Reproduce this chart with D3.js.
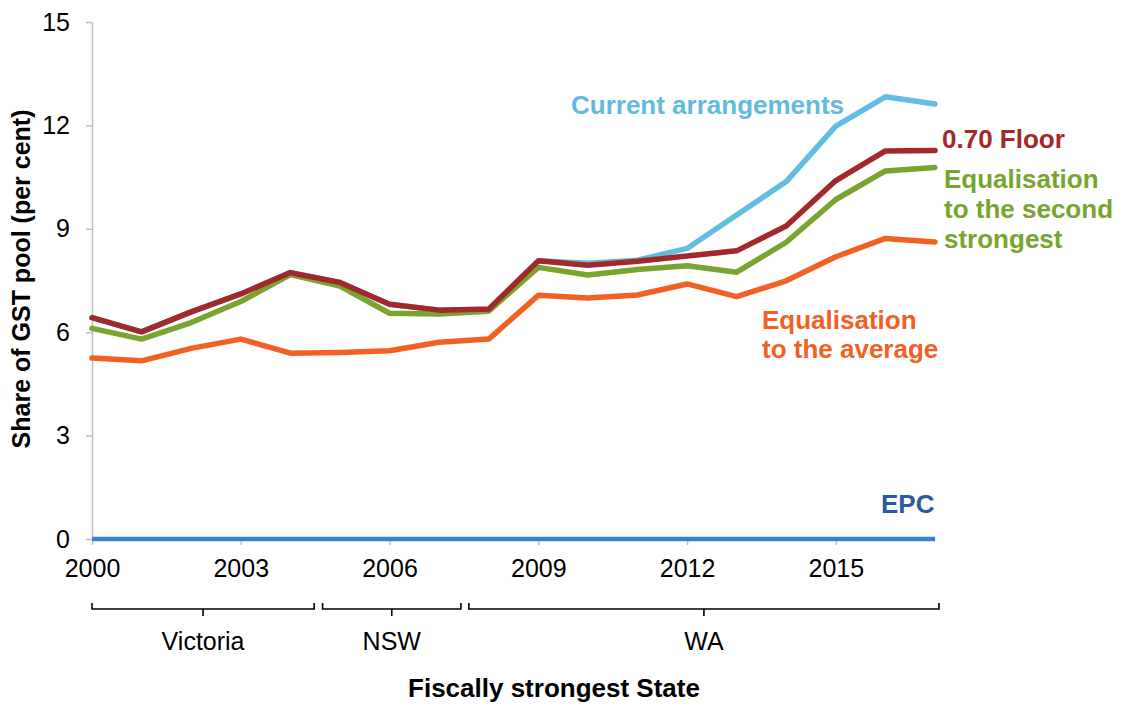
<!DOCTYPE html>
<html>
<head>
<meta charset="utf-8">
<script src="https://cdn.jsdelivr.net/npm/d3@7"></script>
<style>
  body { margin: 0; background: #fff; }
  text { font-family: "Liberation Sans", Arial, sans-serif; }
</style>
</head>
<body>
<div id="chart"></div>
<script>
// GST pool shares by year
const years = [2000, 2001, 2002, 2003, 2004, 2005, 2006, 2007, 2008, 2009, 2010, 2011, 2012, 2013, 2014, 2015, 2016, 2017];
const currentArrangements = [6.42, 6.01, 6.59, 7.11, 7.73, 7.44, 6.81, 6.64, 6.66, 8.07, 8.00, 8.09, 8.43, 9.40, 10.37, 11.98, 12.83, 12.62];
const floor070 = [6.42, 6.01, 6.59, 7.11, 7.73, 7.44, 6.81, 6.64, 6.67, 8.07, 7.94, 8.06, 8.21, 8.36, 9.08, 10.40, 11.26, 11.27];
const secondStrongest = [6.11, 5.80, 6.28, 6.89, 7.67, 7.34, 6.55, 6.53, 6.61, 7.88, 7.66, 7.82, 7.93, 7.74, 8.61, 9.85, 10.68, 10.78];
const average = [5.25, 5.17, 5.53, 5.80, 5.39, 5.41, 5.46, 5.71, 5.80, 7.07, 6.99, 7.08, 7.40, 7.03, 7.49, 8.19, 8.72, 8.62];
const epc = [0, 0, 0, 0, 0, 0, 0, 0, 0, 0, 0, 0, 0, 0, 0, 0, 0, 0];

const yTicks = [0, 3, 6, 9, 12, 15];
const xTicks = [2000, 2003, 2006, 2009, 2012, 2015];

// fiscally strongest State periods (in years along the x axis)
const states = ["Victoria", "NSW", "WA"];
const stateStart = [2000, 2004.65, 2007.6];
const stateEnd = [2004.48, 2007.44, 2017.08];

const svgWidth = 1125;
const svgHeight = 704;
const margins = { top: 22, right: 190, bottom: 165, left: 92 };
const chartWidth = svgWidth - margins.left - margins.right;
const chartHeight = svgHeight - margins.top - margins.bottom;

const svg = d3.select("#chart")
    .append("svg")
    .attr("width", svgWidth)
    .attr("height", svgHeight);

const chartGroup = svg.append("g")
    .attr("transform", `translate(${margins.left}, ${margins.top})`);

const x = d3.scaleLinear().domain([2000, 2017]).range([0, chartWidth]);
const y = d3.scaleLinear().domain([0, 15]).range([chartHeight, 0]);

// axes
const leftAxis = d3.axisLeft(y).tickValues(yTicks).tickSize(6).tickSizeOuter(0).tickPadding(16);
const bottomAxis = d3.axisBottom(x).tickValues(xTicks).tickSize(6).tickSizeOuter(0)
    .tickPadding(14).tickFormat(d3.format("d"));

const yAxisG = chartGroup.append("g").call(leftAxis);
const xAxisG = chartGroup.append("g")
    .attr("transform", `translate(0, ${chartHeight})`)
    .call(bottomAxis);

[yAxisG, xAxisG].forEach(g => {
    g.select(".domain").attr("stroke", "#bfbfbf").attr("stroke-width", 1.5);
    g.selectAll(".tick line").attr("stroke", "#bfbfbf").attr("stroke-width", 1.5);
    g.selectAll(".tick text")
        .attr("font-size", 25)
        .attr("fill", "#000")
        .style("font-family", '"Liberation Sans", Arial, sans-serif');
});

// lines
const line = d3.line()
    .x((d, i) => x(years[i]))
    .y(d => y(d));

const series = [
    { values: epc, color: "#3a7fd2", width: 4.5 },
    { values: currentArrangements, color: "#63bde0", width: 5.5 },
    { values: average, color: "#f26124", width: 5.5 },
    { values: secondStrongest, color: "#78a42f", width: 5.5 },
    { values: floor070, color: "#a3282b", width: 5.5 }
];

series.forEach(s => {
    chartGroup.append("path")
        .datum(s.values)
        .attr("d", line)
        .attr("fill", "none")
        .attr("stroke", s.color)
        .attr("stroke-width", s.width)
        .attr("stroke-linejoin", "round")
        .attr("stroke-linecap", s.values === epc ? "butt" : "round");
});

// series labels
function addLabel(lines, px, py, color, lh) {
    const t = svg.append("text")
        .attr("x", px)
        .attr("y", py)
        .attr("font-size", 26)
        .attr("font-weight", "bold")
        .attr("fill", color);
    lines.forEach((l, i) => {
        t.append("tspan").attr("x", px).attr("dy", i === 0 ? 0 : lh).text(l);
    });
}

addLabel(["Current arrangements"], 571, 114, "#62bbdc", 30);
addLabel(["0.70 Floor"], 942, 148, "#a3282b", 30);
addLabel(["Equalisation", "to the second", "strongest"], 944, 188, "#78a42f", 30);
addLabel(["Equalisation", "to the average"], 762, 329, "#f26124", 29);
addLabel(["EPC"], 881, 513, "#2c5a9c", 30);

// state brackets under the x axis
const bracketTop = chartHeight + 64;
const bracketY = chartHeight + 70;
const bracketTick = chartHeight + 77;

states.forEach((name, i) => {
    const x1 = x(stateStart[i]);
    const x2 = x(stateEnd[i]);
    const xc = (x1 + x2) / 2;
    chartGroup.append("path")
        .attr("d", `M${x1},${bracketTop} L${x1},${bracketY} L${x2},${bracketY} L${x2},${bracketTop} M${xc},${bracketY} L${xc},${bracketTick}`)
        .attr("fill", "none")
        .attr("stroke", "#000")
        .attr("stroke-width", 1.6);
    chartGroup.append("text")
        .attr("x", xc)
        .attr("y", chartHeight + 111)
        .attr("text-anchor", "middle")
        .attr("font-size", 25)
        .text(name);
});

// axis titles
svg.append("text")
    .attr("x", 554)
    .attr("y", 697)
    .attr("text-anchor", "middle")
    .attr("font-size", 26)
    .attr("font-weight", "bold")
    .text("Fiscally strongest State");

svg.append("text")
    .attr("transform", "translate(30, 279) rotate(-90)")
    .attr("text-anchor", "middle")
    .attr("font-size", 25)
    .attr("font-weight", "bold")
    .text("Share of GST pool (per cent)");
</script>
</body>
</html>
